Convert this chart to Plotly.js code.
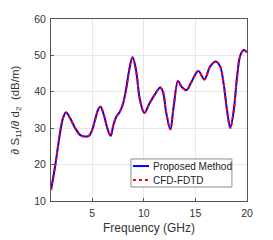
<!DOCTYPE html>
<html><head><meta charset="utf-8">
<script src="https://cdn.plot.ly/plotly-3.0.1.min.js"></script>
<style>html,body{margin:0;padding:0;background:#fff;}#chart{width:273px;height:240px;}</style>
</head><body><div id="chart"></div>
<script>
const freq = [1.0, 1.39, 1.72, 1.98, 2.21, 2.47, 2.86, 3.35, 3.84, 4.33, 4.66, 4.99, 5.31, 5.58, 5.80, 6.13, 6.46, 6.78, 7.05, 7.34, 7.67, 7.99, 8.32, 8.58, 8.91, 9.24, 9.63, 10.05, 10.54, 11.03, 11.59, 11.85, 12.18, 12.57, 12.89, 13.32, 13.65, 14.14, 14.63, 15.28, 15.87, 16.42, 16.98, 17.4, 17.73, 18.06, 18.38, 18.72, 19.04, 19.36, 19.7, 20.0];
const proposed = [13.0, 19.4, 25.8, 30.4, 33.2, 34.3, 32.7, 30.0, 28.1, 27.7, 27.9, 29.5, 32.7, 35.2, 35.9, 33.6, 30.0, 27.9, 30.9, 33.2, 34.5, 36.8, 41.4, 46.0, 49.5, 46.0, 37.7, 34.2, 36.8, 39.1, 41.2, 40.0, 34.1, 29.7, 35.9, 43.0, 41.4, 40.5, 42.8, 45.7, 43.4, 46.9, 48.3, 46.9, 42.3, 35.0, 30.1, 35.0, 44.2, 50.1, 51.5, 50.8];
const cfdFdtd = proposed.slice();
const seriesNames = ['Proposed Method', 'CFD-FDTD'];
const seriesColors = ['#0000ff', '#ff0000'];
const seriesDash = ['solid', 'dot'];
const xTicks = [5, 10, 15, 20];
const yTicks = [10, 20, 30, 40, 50, 60];

const FONT = 'Liberation Sans, Arial, sans-serif';
const traces = [proposed, cfdFdtd].map((ys, i) => ({
  x: freq, y: ys, name: seriesNames[i], mode: 'lines', showlegend: false,
  line: {color: seriesColors[i], width: 2, dash: seriesDash[i], shape: 'spline', smoothing: 1}
}));

// legend box drawn in paper coordinates
const legBox = {x0: 0.408, x1: 0.923, y0: 0.077, y1: 0.231};
const legRows = [0.192, 0.115];
const shapes = [{type: 'rect', xref: 'paper', yref: 'paper', x0: legBox.x0, x1: legBox.x1, y0: legBox.y0, y1: legBox.y1, fillcolor: '#fff', line: {color: '#8f8f8f', width: 1}, layer: 'above'}];
const annotations = [];
legRows.forEach((yy, i) => {
  shapes.push({type: 'line', xref: 'paper', yref: 'paper', x0: 0.418, x1: 0.5, y0: yy, y1: yy, line: {color: seriesColors[i], width: 2, dash: seriesDash[i]}, layer: 'above'});
  annotations.push({xref: 'paper', yref: 'paper', x: 0.51, y: yy, xanchor: 'left', yanchor: 'middle', showarrow: false, text: seriesNames[i], font: {family: FONT, size: 10, color: '#222'}});
});

const axisCommon = {showline: true, mirror: true, linecolor: '#555', linewidth: 1, ticks: 'inside', ticklen: 3, tickcolor: '#555', showgrid: true, gridcolor: '#e8e8e8', zeroline: false, tickfont: {family: FONT, size: 10.5, color: '#333'}};
const layout = {
  width: 273, height: 240,
  margin: {l: 51, r: 26, t: 19, b: 39},
  paper_bgcolor: '#fff', plot_bgcolor: '#fff',
  showlegend: false,
  shapes: shapes, annotations: annotations,
  xaxis: Object.assign({}, axisCommon, {range: [1, 20], tickvals: xTicks, ticklabelstandoff: 2, title: {text: 'Frequency (GHz)', font: {family: FONT, size: 12, color: '#333'}, standoff: 6}}),
  yaxis: Object.assign({}, axisCommon, {range: [10, 60], tickvals: yTicks, ticklabelstandoff: 2, title: {text: '<i>∂</i> S<sub>11</sub>/<i>∂</i> d<sub>2</sub>  (dB/m)', font: {family: FONT, size: 11.5, color: '#333'}, standoff: 12}})
};
Plotly.newPlot('chart', traces, layout, {displayModeBar: false, staticPlot: true});
</script></body></html>
